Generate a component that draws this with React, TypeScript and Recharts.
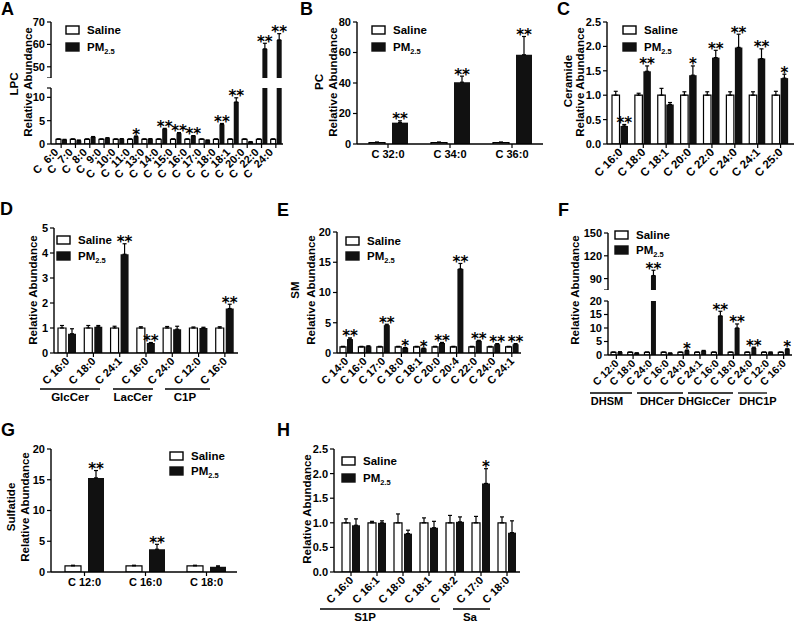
import React from "react";
import { BarChart, Bar, XAxis, YAxis, ErrorBar, LabelList } from "recharts";

const FONT = '"Liberation Sans", Arial, sans-serif';
const STAR_FONT = '"DejaVu Sans", sans-serif';

// ---- A: LPC
const A_CATS = ["C 6:0", "C 7:0", "C 8:0", "C 9:0", "C 10:0", "C 11:0", "C 13:0", "C 14:0", "C 15:0", "C 16:0", "C 17:0", "C 18:0", "C 18:1", "C 20:0", "C 22:0", "C 24:0"];
const A_SAL = [1, 1, 1, 1, 1, 1, 1, 1, 1, 1, 1, 1, 1, 1, 1, 1];
const A_SAL_ERR = [0.1, 0.1, 0.1, 0.1, 0.1, 0.1, 0.1, 0.1, 0.1, 0.1, 0.1, 0.1, 0.1, 0.1, 0.1, 0.1];
const A_PM = [0.9, 0.75, 1.5, 1.25, 1.05, 1.6, 1.05, 3.2, 2.3, 1.7, 0.8, 4.2, 9.0, 0.45, 58, 62];
const A_PM_ERR = [0.1, 0.1, 0.1, 0.1, 0.1, 0.1, 0.1, 0.15, 0.15, 0.1, 0.05, 0.2, 0.9, 0.05, 2.5, 2.8];
const A_SIG = ["", "", "", "", "", "*", "", "**", "**", "**", "", "**", "**", "", "**", "**"];

// ---- B: PC
const B_CATS = ["C 32:0", "C 34:0", "C 36:0"];
const B_SAL = [1, 1, 1];
const B_SAL_ERR = [0.3, 0.3, 0.3];
const B_PM = [14, 40.5, 58.5];
const B_PM_ERR = [1.2, 4, 12];
const B_SIG = ["**", "**", "**"];

// ---- C: Ceramide
const C_CATS = ["C 16:0", "C 18:0", "C 18:1", "C 20:0", "C 22:0", "C 24:0", "C 24:1", "C 25:0"];
const C_SAL = [1, 1, 1, 1, 1, 1, 1, 1];
const C_SAL_ERR = [0.08, 0.04, 0.14, 0.07, 0.07, 0.07, 0.07, 0.08];
const C_PM = [0.37, 1.49, 0.81, 1.41, 1.77, 1.98, 1.75, 1.35];
const C_PM_ERR = [0.03, 0.11, 0.04, 0.19, 0.15, 0.27, 0.2, 0.08];
const C_SIG = ["**", "**", "", "*", "**", "**", "**", "*"];

// ---- D: GlcCer / LacCer / C1P
const D_CATS = ["C 16:0", "C 18:0", "C 24:1", "C 16:0", "C 24:0", "C 12:0", "C 16:0"];
const D_SAL = [1, 1, 1, 1, 1, 1, 1];
const D_SAL_ERR = [0.1, 0.1, 0.07, 0.05, 0.06, 0.04, 0.05];
const D_PM = [0.77, 1.05, 3.95, 0.4, 0.95, 1.0, 1.78];
const D_PM_ERR = [0.2, 0.05, 0.42, 0.02, 0.12, 0.03, 0.17];
const D_SIG = ["", "", "**", "**", "", "", "**"];
const D_GROUPS = ["GlcCer", "LacCer", "C1P"];

// ---- E: SM
const E_CATS = ["C 14:0", "C 16:0", "C 17:0", "C 18:0", "C 18:1", "C 20:0", "C 20:4", "C 22:0", "C 24:0", "C 24:1"];
const E_SAL = [1, 1, 1, 1, 1, 1, 1, 1, 1, 1];
const E_SAL_ERR = [0.1, 0.1, 0.1, 0.1, 0.1, 0.1, 0.1, 0.1, 0.1, 0.1];
const E_PM = [2.3, 1.1, 4.6, 0.85, 0.75, 1.65, 13.9, 2.0, 1.45, 1.45];
const E_PM_ERR = [0.2, 0.08, 0.15, 0.05, 0.05, 0.1, 0.9, 0.1, 0.1, 0.1];
const E_SIG = ["**", "", "**", "*", "*", "**", "**", "**", "**", "**"];

// ---- F: DHSM / DHCer / DHGlcCer / DHC1P
const F_CATS = ["C 12:0", "C 18:0", "C 24:0", "C 16:0", "C 24:0", "C 24:1", "C 16:0", "C 18:0", "C 24:0", "C 12:0", "C 16:0"];
const F_SAL = [1, 1, 1, 1, 1, 1, 1, 1, 1, 1, 1];
const F_SAL_ERR = [0.1, 0.1, 0.1, 0.1, 0.1, 0.1, 0.1, 0.1, 0.1, 0.1, 0.1];
const F_PM = [1.1, 0.75, 94, 0.7, 1.6, 1.5, 14.5, 10, 2.6, 1.0, 2.1];
const F_PM_ERR = [0.1, 0.05, 7, 0.05, 0.2, 0.2, 1.7, 1.5, 0.3, 0.1, 0.2];
const F_SIG = ["", "", "**", "", "*", "", "**", "**", "**", "", "*"];
const F_GROUPS = ["DHSM", "DHCer", "DHGlcCer", "DHC1P"];

// ---- G: Sulfatide
const G_CATS = ["C 12:0", "C 16:0", "C 18:0"];
const G_SAL = [1, 1, 1];
const G_SAL_ERR = [0.1, 0.1, 0.1];
const G_PM = [15.3, 3.7, 0.85];
const G_PM_ERR = [1.2, 0.8, 0.15];
const G_SIG = ["**", "**", ""];

// ---- H: S1P / Sa
const H_CATS = ["C 16:0", "C 16:1", "C 18:0", "C 18:1", "C 18:2", "C 17:0", "C 18:0"];
const H_SAL = [1, 1, 1, 1, 1, 1, 1];
const H_SAL_ERR = [0.08, 0.03, 0.18, 0.1, 0.15, 0.13, 0.12];
const H_PM = [0.95, 1.0, 0.78, 0.9, 1.02, 1.8, 0.8];
const H_PM_ERR = [0.13, 0.04, 0.07, 0.13, 0.1, 0.3, 0.24];
const H_SIG = ["", "", "", "", "", "*", ""];
const H_GROUPS = ["S1P", "Sa"];

const YW = 40;
const MT = 10;
const MR = 10;

type SubProps = {
  left: number; top: number; w: number; h: number;
  cats: string[]; sal: number[]; salErr: number[]; pm: number[]; pmErr: number[]; sig: string[];
  domain: [number, number]; ticks: number[]; hideTick?: number; dec?: number;
  xMode: "none" | "rot" | "flat"; barSize: number; barGap: number; padL?: number; padR?: number;
  rotFont?: number; rotDx?: number; rotWs?: number;
};

function RotTick(props: any) {
  const { x, y, payload, fs, dx, ws } = props;
  const ax = x + dx;
  const ay = y + 3;
  return (
    <text x={ax} y={ay} transform={`rotate(-45 ${ax} ${ay})`} textAnchor="end" wordSpacing={ws}
      fontFamily={FONT} fontWeight="bold" fontSize={fs} fill="#000">
      {payload.value}
    </text>
  );
}

function Sub(p: SubProps) {
  const [lo, hi] = p.domain;
  const rows = p.cats.map((cat, i) => {
    const s = p.sal[i];
    const m = p.pm[i];
    const shown = m >= lo && m + p.pmErr[i] <= hi;
    return {
      cat,
      idx: i,
      sal: s >= lo ? s : null,
      salErr: s >= lo && s + p.salErr[i] <= hi ? [0, p.salErr[i]] : null,
      pm: m >= lo ? m : null,
      pmErr: shown ? [0, p.pmErr[i]] : null,
      sig: shown ? p.sig[i] : "",
      err: p.pmErr[i],
    };
  });
  const base = lo > 0 ? lo : 0;
  const xh = p.xMode === "none" ? 0 : 50;

  const star = (props: any) => {
    const vb = props.viewBox && props.viewBox.width !== undefined ? props.viewBox : props;
    const { x, y, width, height } = vb;
    const row = rows[Number(props.value)];
    if (!row || !row.sig || row.pm == null) return null;
    const k = height / (row.pm - base);
    const top = y - row.err * k;
    return (
      <text x={x + width / 2} y={top + 3.5} textAnchor="middle" fontFamily={STAR_FONT}
        fontWeight="bold" fontSize={15} fill="#000">
        {row.sig}
      </text>
    );
  };

  const fmt = (v: number) => (v === p.hideTick ? "" : p.dec ? v.toFixed(p.dec) : String(v));

  return (
    <div style={{ position: "absolute", left: p.left - YW, top: p.top - MT }}>
      <BarChart width={YW + p.w + MR} height={MT + p.h + xh} data={rows}
        margin={{ top: MT, right: MR, left: 0, bottom: 0 }} barGap={p.barGap}>
        <XAxis dataKey="cat" hide={p.xMode === "none"} height={xh} interval={0}
          padding={{ left: p.padL ?? 0, right: p.padR ?? 0 }}
          axisLine={{ stroke: "#000", strokeWidth: 1.4 }} tickLine={{ stroke: "#000", strokeWidth: 1.2 }} tickSize={4}
          tick={p.xMode === "rot"
            ? (tp: any) => <RotTick {...tp} fs={p.rotFont ?? 11} dx={p.rotDx ?? 3} ws={p.rotWs ?? 0} />
            : { fontSize: 11, fontWeight: "bold", fill: "#000", fontFamily: FONT }} />
        <YAxis width={YW} domain={p.domain} ticks={p.ticks} allowDataOverflow interval={0}
          tickFormatter={fmt} tickSize={4} tickMargin={2}
          axisLine={{ stroke: "#000", strokeWidth: 1.4 }} tickLine={{ stroke: "#000", strokeWidth: 1.2 }}
          tick={{ fontSize: 11, fontWeight: "bold", fill: "#000", fontFamily: FONT }} />
        <Bar dataKey="sal" barSize={p.barSize} fill="#fff" stroke="#000" strokeWidth={1.2} isAnimationActive={false}>
          <ErrorBar dataKey="salErr" direction="y" width={2} stroke="#000" strokeWidth={1.2} isAnimationActive={false} />
        </Bar>
        <Bar dataKey="pm" barSize={p.barSize} fill="#111" isAnimationActive={false}>
          <ErrorBar dataKey="pmErr" direction="y" width={2} stroke="#000" strokeWidth={1.2} isAnimationActive={false} />
          <LabelList dataKey="idx" content={star} />
        </Bar>
      </BarChart>
    </div>
  );
}

function Key({ x, y, gap }: { x: number; y: number; gap: number }) {
  return (
    <g fontFamily={FONT} fontWeight="bold" fontSize={11.5} fill="#000">
      <rect x={x} y={y} width={13} height={8} fill="#fff" stroke="#000" strokeWidth={1.4} />
      <text x={x + 21} y={y + 8}>Saline</text>
      <rect x={x} y={y + gap} width={13} height={8} fill="#111" stroke="#111" strokeWidth={1.4} />
      <text x={x + 21} y={y + gap + 8}>PM<tspan fontSize={7.5} dy={2.5}>2.5</tspan></text>
    </g>
  );
}

function VTitle({ x, y, text }: { x: number; y: number; text: string }) {
  return (
    <text x={x} y={y} transform={`rotate(-90 ${x} ${y})`} textAnchor="middle" dominantBaseline="central"
      fontFamily={FONT} fontWeight="bold" fontSize={11.5} fill="#000">
      {text}
    </text>
  );
}

function Group({ x1, x2, y, label, lx, fs = 11.5 }: { x1: number; x2: number; y: number; label: string; lx: number; fs?: number }) {
  return (
    <g>
      <line x1={x1} x2={x2} y1={y} y2={y} stroke="#000" strokeWidth={1.3} />
      <text x={lx} y={y + 12} textAnchor="middle" fontFamily={FONT} fontWeight="bold" fontSize={fs} fill="#000">{label}</text>
    </g>
  );
}

function Letter({ x, y, t }: { x: number; y: number; t: string }) {
  return <text x={x} y={y} fontFamily={FONT} fontWeight="bold" fontSize={18} fill="#000">{t}</text>;
}

export default function App() {
  return (
    <div style={{ position: "absolute", left: 0, top: 0, width: 795, height: 622, background: "#fff", overflow: "hidden" }}>
      {/* A, broken axis */}
      <Sub left={51} top={22} w={232} h={56} cats={A_CATS} sal={A_SAL} salErr={A_SAL_ERR} pm={A_PM} pmErr={A_PM_ERR} sig={A_SIG}
        domain={[45, 70]} ticks={[45, 50, 60, 70]} hideTick={45} xMode="none" barSize={5} barGap={1} padL={3} />
      <Sub left={51} top={88} w={232} h={56} cats={A_CATS} sal={A_SAL} salErr={A_SAL_ERR} pm={A_PM} pmErr={A_PM_ERR} sig={A_SIG}
        domain={[0, 12]} ticks={[0, 5, 10, 12]} hideTick={12} xMode="rot" rotFont={11} rotDx={-2} rotWs={4} barSize={5} barGap={1} padL={3} />
      {/* B */}
      <Sub left={357} top={22} w={186} h={122} cats={B_CATS} sal={B_SAL} salErr={B_SAL_ERR} pm={B_PM} pmErr={B_PM_ERR} sig={B_SIG}
        domain={[0, 80]} ticks={[0, 20, 40, 60, 80]} xMode="flat" barSize={16} barGap={7} />
      {/* C */}
      <Sub left={607} top={22} w={187} h={122} cats={C_CATS} sal={C_SAL} salErr={C_SAL_ERR} pm={C_PM} pmErr={C_PM_ERR} sig={C_SIG}
        domain={[0, 2.5]} ticks={[0, 0.5, 1, 1.5, 2, 2.5]} dec={1} xMode="rot" rotFont={11.5} barSize={7.5} barGap={1} padL={2} padR={2} />
      {/* D */}
      <Sub left={54} top={228} w={184} h={125} cats={D_CATS} sal={D_SAL} salErr={D_SAL_ERR} pm={D_PM} pmErr={D_PM_ERR} sig={D_SIG}
        domain={[0, 5]} ticks={[0, 1, 2, 3, 4, 5]} xMode="rot" rotFont={11} barSize={8} barGap={2} />
      {/* E */}
      <Sub left={337} top={232} w={184} h={121} cats={E_CATS} sal={E_SAL} salErr={E_SAL_ERR} pm={E_PM} pmErr={E_PM_ERR} sig={E_SIG}
        domain={[0, 20]} ticks={[0, 5, 10, 15, 20]} xMode="rot" rotFont={11} barSize={6} barGap={1} />
      {/* F, broken axis */}
      <Sub left={608} top={233} w={184} h={57} cats={F_CATS} sal={F_SAL} salErr={F_SAL_ERR} pm={F_PM} pmErr={F_PM_ERR} sig={F_SIG}
        domain={[75, 150]} ticks={[75, 90, 120, 150]} hideTick={75} xMode="none" barSize={5} barGap={1.5} />
      <Sub left={608} top={301} w={184} h={54} cats={F_CATS} sal={F_SAL} salErr={F_SAL_ERR} pm={F_PM} pmErr={F_PM_ERR} sig={F_SIG}
        domain={[0, 20]} ticks={[0, 5, 10, 15, 20]} xMode="rot" rotFont={10.5} barSize={5} barGap={1.5} />
      {/* G */}
      <Sub left={51} top={449} w={186} h={123} cats={G_CATS} sal={G_SAL} salErr={G_SAL_ERR} pm={G_PM} pmErr={G_PM_ERR} sig={G_SIG}
        domain={[0, 20]} ticks={[0, 5, 10, 15, 20]} xMode="flat" barSize={16} barGap={7} padL={3} />
      {/* H */}
      <Sub left={334} top={449} w={186} h={123} cats={H_CATS} sal={H_SAL} salErr={H_SAL_ERR} pm={H_PM} pmErr={H_PM_ERR} sig={H_SIG}
        domain={[0, 2.5]} ticks={[0, 0.5, 1, 1.5, 2, 2.5]} dec={1} xMode="rot" rotFont={11} barSize={8} barGap={2} padL={4} />

      <svg width={795} height={622} style={{ position: "absolute", left: 0, top: 0, pointerEvents: "none" }}>
        <Letter x={1} y={15} t="A" />
        <Letter x={300} y={15} t="B" />
        <Letter x={557} y={15} t="C" />
        <Letter x={0} y={215} t="D" />
        <Letter x={277} y={216} t="E" />
        <Letter x={558} y={216} t="F" />
        <Letter x={1} y={436} t="G" />
        <Letter x={277} y={436} t="H" />

        <VTitle x={14} y={84} text="LPC" />
        <VTitle x={28} y={82} text="Relative Abundance" />
        <VTitle x={319} y={82} text="PC" />
        <VTitle x={333} y={82} text="Relative Abundance" />
        <VTitle x={568} y={81} text="Ceramide" />
        <VTitle x={580} y={82} text="Relative Abundance" />
        <VTitle x={33} y={290} text="Relative Abundance" />
        <VTitle x={295} y={290} text="SM" />
        <VTitle x={311} y={290} text="Relative Abundance" />
        <VTitle x={575} y={290} text="Relative Abundance" />
        <VTitle x={11} y={507} text="Sulfatide" />
        <VTitle x={25} y={507} text="Relative Abundance" />
        <VTitle x={307} y={509} text="Relative Abundance" />

        <Key x={66} y={26} gap={17} />
        <Key x={372} y={26} gap={17} />
        <Key x={623} y={26} gap={17} />
        <Key x={57} y={236} gap={16} />
        <Key x={346} y={237} gap={15} />
        <Key x={615} y={231} gap={15} />
        <Key x={170} y={452} gap={15} />
        <Key x={342} y={457} gap={17} />

        <Group x1={40} x2={100} y={389} label={D_GROUPS[0]} lx={70} />
        <Group x1={113} x2={153} y={389} label={D_GROUPS[1]} lx={133} />
        <Group x1={165} x2={210} y={389} label={D_GROUPS[2]} lx={185} />

        <Group x1={590} x2={632} y={393} label={F_GROUPS[0]} lx={607} fs={11} />
        <Group x1={637} x2={683} y={393} label={F_GROUPS[1]} lx={657} fs={11} />
        <Group x1={688} x2={733} y={393} label={F_GROUPS[2]} lx={704} fs={11} />
        <Group x1={738} x2={767} y={393} label={F_GROUPS[3]} lx={758} fs={11} />

        <Group x1={320} x2={440} y={609} label={H_GROUPS[0]} lx={365} />
        <Group x1={453} x2={490} y={609} label={H_GROUPS[1]} lx={470} />
      </svg>
    </div>
  );
}
